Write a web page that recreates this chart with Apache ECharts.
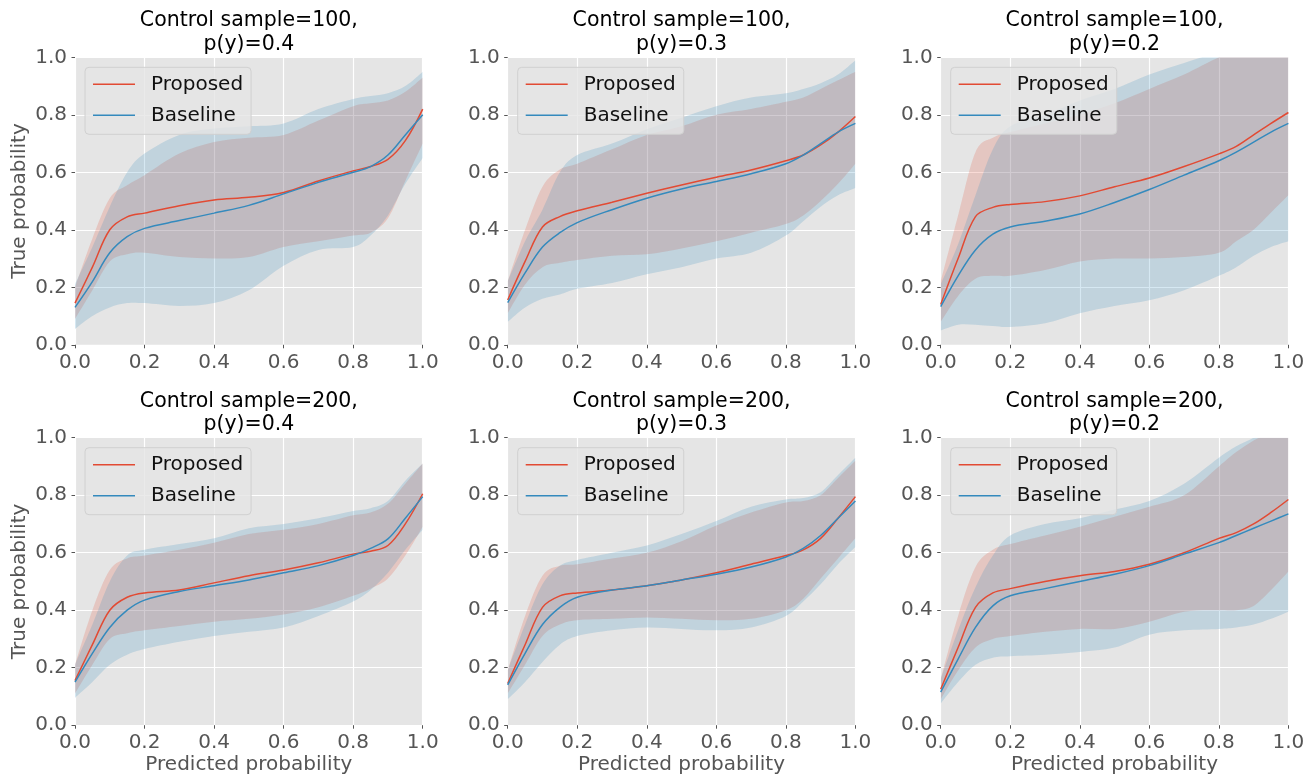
<!DOCTYPE html>
<html>
<head>
<meta charset="utf-8">
<script src="https://cdn.jsdelivr.net/npm/echarts@6/dist/echarts.min.js"></script>
<style>
html,body{margin:0;padding:0;background:#fff;}
#chart{width:1305px;height:774px;}
</style>
</head>
<body>
<div id="chart"></div>
<script>
// Predicted probability sample positions
const xs = [0, 0.05, 0.1, 0.15, 0.2, 0.3, 0.4, 0.5, 0.6, 0.7, 0.8, 0.85, 0.9, 0.95, 1.0];

const sampleSizes = [100, 100, 100, 200, 200, 200];
const pyValues = ['0.4', '0.3', '0.2', '0.4', '0.3', '0.2'];
const tickLabels = ['0.0', '0.2', '0.4', '0.6', '0.8', '1.0'];
const xAxisTitle = 'Predicted probability';
const yAxisTitle = 'True probability';

// Panel 1: sample=100, p(y)=0.4
const s100p4_prop   = [0.145,0.27,0.40,0.445,0.458,0.484,0.504,0.513,0.53,0.57,0.605,0.62,0.645,0.71,0.82];
const s100p4_propHi = [0.20,0.37,0.51,0.555,0.59,0.665,0.705,0.72,0.73,0.78,0.83,0.84,0.85,0.88,0.93];
const s100p4_propLo = [0.09,0.19,0.29,0.315,0.32,0.305,0.30,0.305,0.34,0.36,0.38,0.39,0.44,0.57,0.70];
const s100p4_base   = [0.13,0.22,0.32,0.376,0.405,0.432,0.458,0.485,0.525,0.565,0.60,0.62,0.66,0.73,0.80];
const s100p4_baseHi = [0.21,0.34,0.48,0.60,0.665,0.73,0.752,0.76,0.77,0.82,0.855,0.865,0.875,0.90,0.95];
const s100p4_baseLo = [0.055,0.10,0.13,0.145,0.145,0.135,0.145,0.19,0.275,0.33,0.34,0.38,0.45,0.56,0.65];

// Panel 2: sample=100, p(y)=0.3
const s100p3_prop   = [0.156,0.29,0.41,0.446,0.466,0.496,0.527,0.556,0.583,0.608,0.64,0.66,0.695,0.74,0.794];
const s100p3_propHi = [0.22,0.40,0.55,0.61,0.63,0.68,0.73,0.76,0.80,0.82,0.845,0.86,0.89,0.92,0.95];
const s100p3_propLo = [0.11,0.21,0.27,0.285,0.295,0.31,0.315,0.335,0.36,0.39,0.42,0.45,0.50,0.56,0.63];
const s100p3_base   = [0.147,0.25,0.34,0.39,0.425,0.47,0.51,0.542,0.568,0.595,0.63,0.66,0.70,0.74,0.77];
const s100p3_baseHi = [0.22,0.36,0.47,0.60,0.66,0.70,0.75,0.79,0.83,0.86,0.875,0.89,0.91,0.94,0.99];
const s100p3_baseLo = [0.08,0.13,0.16,0.175,0.195,0.215,0.245,0.27,0.30,0.32,0.38,0.43,0.48,0.52,0.545];

// Panel 3: sample=100, p(y)=0.2
const s100p2_prop   = [0.14,0.30,0.446,0.478,0.488,0.498,0.518,0.55,0.58,0.62,0.664,0.69,0.73,0.77,0.808];
const s100p2_propHi = [0.22,0.45,0.67,0.72,0.74,0.77,0.80,0.84,0.89,0.94,1.0,1.02,1.04,1.06,1.08];
const s100p2_propLo = [0.08,0.17,0.23,0.24,0.24,0.26,0.29,0.30,0.30,0.305,0.32,0.36,0.40,0.46,0.52];
const s100p2_base   = [0.133,0.24,0.33,0.385,0.41,0.43,0.455,0.495,0.54,0.59,0.64,0.67,0.705,0.74,0.77];
const s100p2_baseHi = [0.21,0.35,0.52,0.68,0.76,0.80,0.85,0.89,0.94,0.98,1.02,1.04,1.06,1.08,1.10];
const s100p2_baseLo = [0.05,0.07,0.07,0.065,0.062,0.075,0.11,0.135,0.155,0.19,0.24,0.27,0.31,0.34,0.36];

// Panel 4: sample=200, p(y)=0.4
const s200p4_prop   = [0.155,0.28,0.40,0.445,0.46,0.47,0.495,0.52,0.54,0.565,0.595,0.605,0.625,0.70,0.805];
const s200p4_propHi = [0.21,0.40,0.54,0.58,0.59,0.61,0.635,0.665,0.68,0.70,0.73,0.74,0.77,0.84,0.91];
const s200p4_propLo = [0.11,0.21,0.30,0.32,0.33,0.345,0.36,0.37,0.385,0.41,0.45,0.475,0.51,0.59,0.69];
const s200p4_base   = [0.15,0.25,0.34,0.40,0.435,0.465,0.485,0.505,0.53,0.555,0.59,0.615,0.648,0.72,0.795];
const s200p4_baseHi = [0.21,0.35,0.50,0.59,0.61,0.63,0.65,0.685,0.70,0.72,0.745,0.755,0.78,0.85,0.91];
const s200p4_baseLo = [0.095,0.15,0.21,0.245,0.265,0.29,0.31,0.325,0.34,0.38,0.43,0.47,0.53,0.61,0.68];

// Panel 5: sample=200, p(y)=0.3
const s200p3_prop   = [0.145,0.28,0.41,0.45,0.46,0.47,0.485,0.505,0.53,0.56,0.59,0.61,0.65,0.72,0.795];
const s200p3_propHi = [0.19,0.38,0.52,0.555,0.56,0.58,0.60,0.64,0.695,0.74,0.775,0.78,0.80,0.86,0.92];
const s200p3_propLo = [0.11,0.21,0.31,0.35,0.365,0.37,0.375,0.37,0.365,0.37,0.40,0.44,0.51,0.58,0.65];
const s200p3_base   = [0.14,0.25,0.35,0.41,0.445,0.47,0.485,0.505,0.525,0.55,0.585,0.615,0.66,0.72,0.78];
const s200p3_baseHi = [0.19,0.35,0.49,0.555,0.575,0.60,0.625,0.665,0.71,0.76,0.785,0.79,0.81,0.87,0.93];
const s200p3_baseLo = [0.09,0.15,0.22,0.28,0.31,0.33,0.34,0.335,0.33,0.34,0.38,0.43,0.49,0.56,0.62];

// Panel 6: sample=200, p(y)=0.2
const s200p2_prop   = [0.125,0.27,0.41,0.46,0.475,0.50,0.52,0.535,0.56,0.60,0.65,0.67,0.70,0.74,0.785];
const s200p2_propHi = [0.16,0.38,0.55,0.61,0.63,0.66,0.69,0.725,0.76,0.80,0.90,0.95,0.99,1.02,1.05];
const s200p2_propLo = [0.09,0.19,0.27,0.30,0.31,0.325,0.335,0.335,0.36,0.395,0.40,0.40,0.415,0.47,0.535];
const s200p2_base   = [0.115,0.23,0.34,0.415,0.45,0.475,0.50,0.525,0.555,0.595,0.635,0.66,0.685,0.71,0.735];
const s200p2_baseHi = [0.16,0.33,0.48,0.59,0.66,0.70,0.72,0.75,0.78,0.84,0.93,0.97,1.0,1.04,1.06];
const s200p2_baseLo = [0.075,0.15,0.21,0.235,0.24,0.245,0.255,0.27,0.315,0.33,0.335,0.34,0.35,0.37,0.395];

const panels = [
  {prop:s100p4_prop, propHi:s100p4_propHi, propLo:s100p4_propLo, base:s100p4_base, baseHi:s100p4_baseHi, baseLo:s100p4_baseLo},
  {prop:s100p3_prop, propHi:s100p3_propHi, propLo:s100p3_propLo, base:s100p3_base, baseHi:s100p3_baseHi, baseLo:s100p3_baseLo},
  {prop:s100p2_prop, propHi:s100p2_propHi, propLo:s100p2_propLo, base:s100p2_base, baseHi:s100p2_baseHi, baseLo:s100p2_baseLo},
  {prop:s200p4_prop, propHi:s200p4_propHi, propLo:s200p4_propLo, base:s200p4_base, baseHi:s200p4_baseHi, baseLo:s200p4_baseLo},
  {prop:s200p3_prop, propHi:s200p3_propHi, propLo:s200p3_propLo, base:s200p3_base, baseHi:s200p3_baseHi, baseLo:s200p3_baseLo},
  {prop:s200p2_prop, propHi:s200p2_propHi, propLo:s200p2_propLo, base:s200p2_base, baseHi:s200p2_baseHi, baseLo:s200p2_baseLo}
];

const RED = '#E24A33', BLUE = '#348ABD';
const FONT = 'DejaVu Sans';
const colLeft = [75, 507.7, 940.7];
const rowTop = [57.3, 437.7];
const gw = 347.7, gh = 287.5;

// Catmull-Rom style smoothing of pixel points (points come from api.coord)
function curveCmds(pts) {
  let d = '';
  const t = 1 / 6;
  for (let i = 0; i < pts.length - 1; i++) {
    const p0 = pts[Math.max(i - 1, 0)], p1 = pts[i], p2 = pts[i + 1], p3 = pts[Math.min(i + 2, pts.length - 1)];
    const c1x = p1[0] + (p2[0] - p0[0]) * t, c1y = p1[1] + (p2[1] - p0[1]) * t;
    const c2x = p2[0] - (p3[0] - p1[0]) * t, c2y = p2[1] - (p3[1] - p1[1]) * t;
    d += ' C' + c1x + ' ' + c1y + ' ' + c2x + ' ' + c2y + ' ' + p2[0] + ' ' + p2[1];
  }
  return d;
}

const grids = [], xAxes = [], yAxes = [], titles = [], legends = [], series = [];
const pairs = (ys) => xs.map((x, i) => [x, ys[i]]);

panels.forEach((p, k) => {
  const r = Math.floor(k / 3), c = k % 3;
  const left = colLeft[c], top = rowTop[r];
  grids.push({left: left, top: top, width: gw, height: gh, show: true, backgroundColor: '#E5E5E5',
    borderWidth: 0, containLabel: false, outerBoundsMode: 'none'});
  const axisCommon = {
    type: 'value', min: 0, max: 1, interval: 0.2, gridIndex: k,
    axisLine: {show: false},
    axisTick: {show: true, length: 3.5, lineStyle: {color: '#555555', width: 1}},
    splitLine: {show: true, lineStyle: {color: '#FFFFFF', width: 1.2}},
    axisLabel: {color: '#555555', fontSize: 20, fontFamily: FONT, margin: 8,
      formatter: (v) => tickLabels[Math.round(v / 0.2)]},
    nameTextStyle: {color: '#555555', fontSize: 20, fontFamily: FONT}
  };
  xAxes.push(Object.assign({}, axisCommon));
  yAxes.push(Object.assign({}, axisCommon, {
    name: c === 0 ? yAxisTitle : '', nameLocation: 'middle', nameGap: 45
  }));
  titles.push({
    text: 'Control sample=' + sampleSizes[k] + ',\np(y)=' + pyValues[k],
    left: left + gw / 2, top: top - 48, textAlign: 'center', padding: 0,
    textStyle: {fontSize: 20.5, fontWeight: 'normal', color: '#000', fontFamily: FONT, lineHeight: 23.5}
  });
  if (r === 1) {
    titles.push({
      text: xAxisTitle, left: left + gw / 2, top: top + gh + 29.5, textAlign: 'center', padding: 0,
      textStyle: {fontSize: 20, fontWeight: 'normal', color: '#555555', fontFamily: FONT, lineHeight: 20}
    });
  }
  legends.push({
    data: ['Proposed', 'Baseline'], orient: 'vertical',
    left: left + 10, top: top + 10,
    padding: [6, 8, 8, 8], itemGap: 9,
    icon: 'rect', itemWidth: 42, itemHeight: 1.6,
    backgroundColor: 'rgba(229,229,229,0.8)', borderColor: '#D0D0D0', borderWidth: 1, borderRadius: 4,
    textStyle: {fontSize: 20, color: '#111', fontFamily: FONT, lineHeight: 22, padding: [0, 0, 0, 11]},
    selectedMode: false
  });
  const band = (lo, hi, color, id) => {
    series.push({
      type: 'custom', name: id, xAxisIndex: k, yAxisIndex: k, silent: true, clip: true, z: 1,
      data: xs.map((x, i) => [x, lo[i], hi[i]]),
      encode: {x: 0, y: [1, 2]},
      renderItem: function (params, api) {
        if (params.dataIndex !== 0) return null;
        const upper = xs.map((x, i) => api.coord([x, hi[i]]));
        const lower = xs.map((x, i) => api.coord([x, lo[i]])).reverse();
        let d = 'M' + upper[0][0] + ' ' + upper[0][1] + curveCmds(upper);
        d += ' L' + lower[0][0] + ' ' + lower[0][1] + curveCmds(lower) + ' Z';
        const cs = params.coordSys;
        return {
          type: 'path', shape: {pathData: d},
          style: {fill: color, stroke: null},
          clipPath: {type: 'rect', shape: {x: cs.x, y: cs.y, width: cs.width, height: cs.height}}
        };
      }
    });
  };
  band(p.propLo, p.propHi, 'rgba(226,74,51,0.2)', 'pband' + k);
  band(p.baseLo, p.baseHi, 'rgba(52,138,189,0.2)', 'bband' + k);
  series.push({
    type: 'line', name: 'Proposed', xAxisIndex: k, yAxisIndex: k, data: pairs(p.prop),
    smooth: 0.35, symbol: 'none', color: RED, lineStyle: {color: RED, width: 1.5}, z: 3
  });
  series.push({
    type: 'line', name: 'Baseline', xAxisIndex: k, yAxisIndex: k, data: pairs(p.base),
    smooth: 0.35, symbol: 'none', color: BLUE, lineStyle: {color: BLUE, width: 1.5}, z: 3
  });
});

const chart = echarts.init(document.getElementById('chart'), null, {renderer: 'canvas'});
chart.setOption({
  animation: false,
  backgroundColor: '#FFFFFF',
  title: titles, legend: legends, grid: grids, xAxis: xAxes, yAxis: yAxes, series: series
});
</script>
</body>
</html>
